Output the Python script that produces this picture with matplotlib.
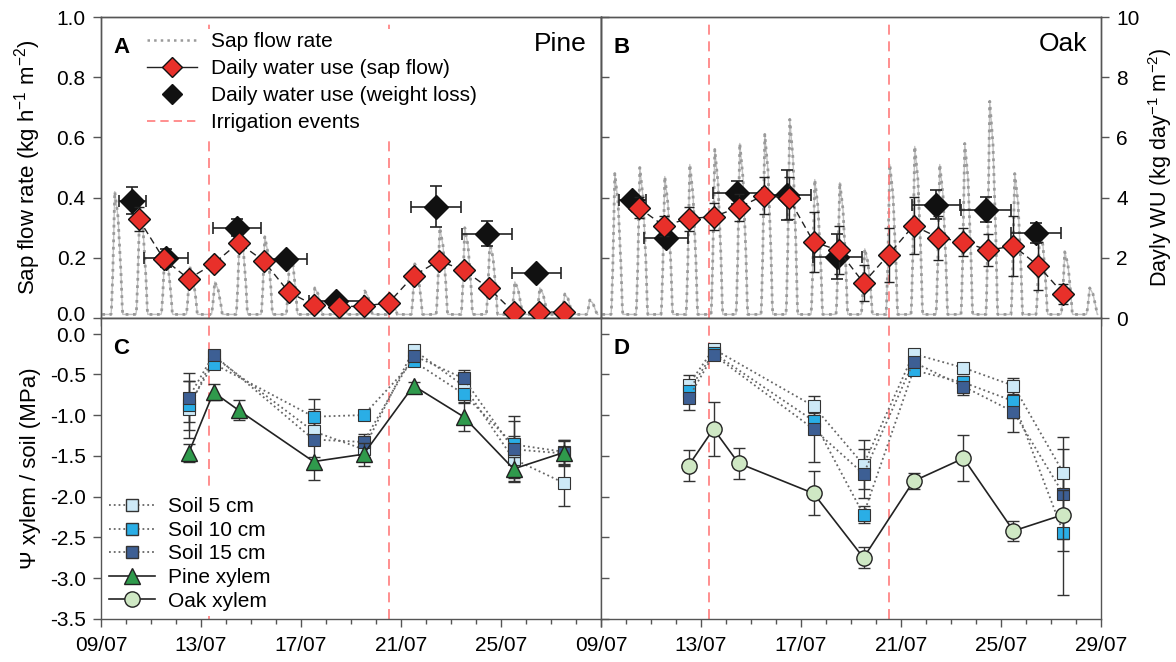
import numpy as np
import matplotlib.pyplot as plt
import matplotlib.transforms as mtransforms
from matplotlib.lines import Line2D
from matplotlib.ticker import MultipleLocator

plt.rcParams['font.family'] = ['Liberation Sans', 'DejaVu Sans']
plt.rcParams['mathtext.default'] = 'regular'

# x values are days since 09/07 00:00
tick_labels = ['09/07', '13/07', '17/07', '21/07', '25/07', '29/07']
irrigation_days = [4.3, 11.5]

# sap flow rate: daily peak (kg h-1 m-2) read per day, plus a rough diurnal shape
sap_days = list(range(20))
pine_sap_peak = [0.42, 0.37, 0.22, 0.17, 0.12, 0.30, 0.27, 0.22, 0.10, 0.08,
                 0.09, 0.07, 0.18, 0.30, 0.30, 0.25, 0.12, 0.10, 0.08, 0.06]
oak_sap_peak = [0.48, 0.50, 0.47, 0.51, 0.56, 0.58, 0.61, 0.66, 0.46, 0.45,
                0.23, 0.51, 0.57, 0.51, 0.58, 0.72, 0.48, 0.30, 0.22, 0.10]
shape_t = [0.40, 0.42, 0.47, 0.55, 0.68, 0.80, 0.85, 0.87]
shape_f = [0.0, 0.08, 0.35, 1.0, 0.8, 0.35, 0.08, 0.0]
sap_base = 0.012

# daily water use from sap flow (kg day-1 m-2)
wu_days = [1.5, 2.5, 3.5, 4.5, 5.5, 6.5, 7.5, 8.5, 9.5, 10.5, 11.5, 12.5, 13.5,
           14.5, 15.5, 16.5, 17.5, 18.5]
pine_wu = [3.3, 1.97, 1.3, 1.8, 2.5, 1.9, 0.87, 0.43, 0.37, 0.4, 0.5, 1.4, 1.9,
           1.6, 1.0, 0.2, 0.2, 0.2]
pine_wu_err = [0.4, 0.2, 0.15, 0.15, 0.2, 0.15, 0.1, 0.05, 0.05, 0.05, 0.05, 0.1,
               0.2, 0.15, 0.15, 0.05, 0.05, 0.05]
oak_wu = [3.67, 3.07, 3.3, 3.37, 3.67, 4.07, 4.0, 2.53, 2.25, 1.17, 2.1, 3.07,
          2.67, 2.53, 2.25, 2.4, 1.73, 0.8]
oak_wu_err = [0.35, 0.33, 0.4, 0.45, 0.45, 0.63, 0.7, 1.0, 0.8, 0.6, 0.9, 0.95,
              0.73, 0.47, 0.53, 1.0, 0.8, 0.33]

# daily water use from weight loss
pine_wl_x = [1.25, 2.6, 5.45, 7.4, 9.4, 13.4, 15.45, 17.4]
pine_wl = [3.9, 2.0, 3.0, 1.97, 0.55, 3.7, 2.8, 1.5]
pine_wl_xerr = [0.55, 0.87, 0.96, 0.85, 1.1, 1.0, 1.0, 0.98]
pine_wl_yerr = [0.45, 0.3, 0.28, 0.0, 0.1, 0.67, 0.42, 0.15]
oak_wl_x = [1.25, 2.6, 5.45, 7.45, 9.45, 13.4, 15.4, 17.4]
oak_wl = [3.93, 2.67, 4.17, 4.1, 2.03, 3.77, 3.6, 2.83]
oak_wl_xerr = [0.55, 0.87, 0.97, 0.95, 0.97, 0.98, 1.0, 1.0]
oak_wl_yerr = [0.1, 0.15, 0.37, 0.83, 0.75, 0.47, 0.42, 0.33]

# water potential (MPa)
psi_days = [3.5, 4.5, 5.5, 8.5, 10.5, 12.5, 14.5, 16.5, 18.5]
pine_xyl = [-1.47, -0.72, -0.94, -1.57, -1.48, -0.64, -1.02, -1.66, -1.46]
pine_xyl_err = [0.11, 0.1, 0.12, 0.05, 0.14, 0.05, 0.17, 0.15, 0.15]
oak_xyl = [-1.62, -1.17, -1.59, -1.96, -2.75, -1.81, -1.53, -2.42, -2.22]
oak_xyl_err = [0.19, 0.33, 0.19, 0.27, 0.13, 0.1, 0.28, 0.12, 0.3]

soil_days = [3.5, 4.5, 8.5, 10.5, 12.5, 14.5, 16.5, 18.5]
pine_soil5 = [-0.93, -0.28, -1.2, -1.42, -0.2, -0.64, -1.54, -1.83]
pine_soil5_err = [0.35, 0.05, 0.15, 0.1, 0.04, 0.08, 0.28, 0.28]
pine_soil10 = [-0.88, -0.37, -1.02, -1.0, -0.34, -0.74, -1.36, -1.45]
pine_soil10_err = [0.3, 0.05, 0.1, 0.05, 0.04, 0.1, 0.35, 0.15]
pine_soil15 = [-0.79, -0.26, -1.3, -1.33, -0.27, -0.55, -1.42, -1.47]
pine_soil15_err = [0.3, 0.05, 0.5, 0.1, 0.05, 0.1, 0.35, 0.15]
oak_soil5 = [-0.63, -0.19, -0.89, -1.61, -0.25, -0.42, -0.64, -1.71]
oak_soil5_err = [0.12, 0.03, 0.05, 0.3, 0.03, 0.05, 0.1, 0.3]
oak_soil10 = [-0.7, -0.24, -1.07, -2.22, -0.45, -0.6, -0.83, -2.45]
oak_soil10_err = [0.12, 0.03, 0.1, 0.1, 0.05, 0.08, 0.2, 0.75]
oak_soil15 = [-0.79, -0.26, -1.17, -1.72, -0.35, -0.65, -0.96, -1.97]
oak_soil15_err = [0.15, 0.03, 0.4, 0.3, 0.05, 0.1, 0.25, 0.7]

red = '#e8302a'
irr_col = '#ff7b7b'
sap_col = '#9a9a9a'
c5, c10, c15 = '#cde9f7', '#2aaee6', '#3d5f94'
pine_green = '#2f9a4c'
oak_green = '#cfe8c4'

fig = plt.figure(figsize=(11.76, 6.62), dpi=100)
L, M, R = 0.0859, 0.5111, 0.9362
T, MID, B = 0.9743, 0.5196, 0.0650
axA = fig.add_axes([L, MID, M - L, T - MID])
axB = fig.add_axes([M, MID, R - M, T - MID])
axC = fig.add_axes([L, B, M - L, MID - B])
axD = fig.add_axes([M, B, R - M, MID - B])


def sap_trace(peaks):
    xs, ys = [0.05], [sap_base]
    for d, p in zip(sap_days, peaks):
        for t, f in zip(shape_t, shape_f):
            xs.append(d + t)
            ys.append(max(sap_base, f * p))
    return xs, ys


def draw_top(ax, peaks, wu, wu_err, wl_x, wl, wl_xerr, wl_yerr):
    xs, ys = sap_trace(peaks)
    ax.plot(xs, ys, '-', color=sap_col, lw=1.0, alpha=0.6)
    ax.plot(xs, ys, ':', color=sap_col, lw=2.0)
    for xd in irrigation_days:
        ax.axvline(xd, color=irr_col, ls=(0, (6, 4)), lw=1.2)
    ax.set_ylim(0, 1.0)
    ax.set_xlim(0, 20)
    ax2 = ax.twinx()
    ax2.set_ylim(0, 10)
    ax2.errorbar(wl_x, wl, xerr=wl_xerr, yerr=wl_yerr, fmt='none', ecolor='#222',
                 elinewidth=1.2, capsize=4, capthick=1.2, zorder=2)
    ax2.plot(wl_x, wl, 'D', color='#111', ms=12, zorder=3)
    ax2.errorbar(wu_days, wu, yerr=wu_err, fmt='none', ecolor='#222',
                 elinewidth=1.0, capsize=3.5, capthick=1.0, zorder=4)
    ax2.plot(wu_days, wu, color='#222', ls=(0, (5, 3)), lw=1.0, marker='D',
             mfc=red, mec='#111', mew=1.0, ms=11, zorder=5)
    return ax2


def draw_bottom(ax, xyl, xyl_err, marker, mcol, soils):
    for xd in irrigation_days:
        ax.axvline(xd, color=irr_col, ls=(0, (6, 4)), lw=1.2, zorder=1)
    for vals, errs, col in soils:
        ax.errorbar(soil_days, vals, yerr=errs, fmt='none', ecolor='#333',
                    elinewidth=1.0, capsize=4, zorder=2)
        ax.plot(soil_days, vals, ':', color='#666', lw=1.3, marker='s', mfc=col,
                mec='#333', mew=0.8, ms=9, zorder=3)
    ax.errorbar(psi_days, xyl, yerr=xyl_err, fmt='none', ecolor='#333',
                elinewidth=1.0, capsize=4, zorder=4)
    ax.plot(psi_days, xyl, '-', color='#222', lw=1.2, marker=marker, mfc=mcol,
            mec='#222', mew=1.0, ms=11, zorder=5)
    ax.set_ylim(-3.5, 0.19)
    ax.set_xlim(0, 20)


a2 = draw_top(axA, pine_sap_peak, pine_wu, pine_wu_err, pine_wl_x, pine_wl,
              pine_wl_xerr, pine_wl_yerr)
b2 = draw_top(axB, oak_sap_peak, oak_wu, oak_wu_err, oak_wl_x, oak_wl,
              oak_wl_xerr, oak_wl_yerr)
draw_bottom(axC, pine_xyl, pine_xyl_err, '^', pine_green,
            [(pine_soil5, pine_soil5_err, c5), (pine_soil10, pine_soil10_err, c10),
             (pine_soil15, pine_soil15_err, c15)])
draw_bottom(axD, oak_xyl, oak_xyl_err, 'o', oak_green,
            [(oak_soil5, oak_soil5_err, c5), (oak_soil10, oak_soil10_err, c10),
             (oak_soil15, oak_soil15_err, c15)])

for ax in [axA, axB, axC, axD, a2, b2]:
    for s in ax.spines.values():
        s.set_color('#555')
        s.set_linewidth(1.0)
for ax in [axA, axB, axC, axD]:
    ax.set_xticks([0, 4, 8, 12, 16, 20])
    ax.xaxis.set_minor_locator(MultipleLocator(1))
    ax.tick_params(axis='x', which='major', direction='out', length=6, width=1,
                   color='#555', labelsize=15, pad=6)
    ax.tick_params(axis='x', which='minor', direction='out', length=3.5, width=1,
                   color='#555')
    ax.tick_params(axis='y', direction='out', length=6, width=1, color='#555',
                   labelsize=15, pad=5)
for ax in [axA, axB]:
    ax.set_yticks([0, 0.2, 0.4, 0.6, 0.8, 1.0])
    ax.tick_params(axis='x', labelbottom=False)
for ax in [axC, axD]:
    ax.set_yticks([0, -0.5, -1.0, -1.5, -2.0, -2.5, -3.0, -3.5])
axA.set_yticklabels(['0.0', '0.2', '0.4', '0.6', '0.8', '1.0'])
axC.set_yticklabels(['0.0', '-0.5', '-1.0', '-1.5', '-2.0', '-2.5', '-3.0', '-3.5'])
axC.set_xticklabels(tick_labels[:5] + [''])
axD.set_xticklabels(tick_labels)
for ax in [axB, axD]:
    ax.tick_params(axis='y', direction='in', labelleft=False)
a2.tick_params(right=False, labelright=False)
b2.set_yticks([0, 2, 4, 6, 8, 10])
b2.tick_params(axis='y', direction='out', length=6, width=1, color='#555',
               labelsize=15, pad=5)

# nudge the two stacked "0.0" labels apart
axA.get_yticklabels()[0].set_transform(
    axA.get_yticklabels()[0].get_transform()
    + mtransforms.ScaledTranslation(0, 3 / 72, fig.dpi_scale_trans))
axC.get_yticklabels()[0].set_transform(
    axC.get_yticklabels()[0].get_transform()
    + mtransforms.ScaledTranslation(0, -1 / 72, fig.dpi_scale_trans))

axA.set_ylabel('Sap flow rate (kg h$^{-1}$ m$^{-2}$)', fontsize=16, labelpad=10)
axC.set_ylabel('\u03a8 xylem / soil (MPa)', fontsize=16, labelpad=6)
b2.set_ylabel('Dayly WU (kg day$^{-1}$ m$^{-2}$)', fontsize=15.5, labelpad=5)

for ax, lab in [(axA, 'A'), (axB, 'B'), (axC, 'C'), (axD, 'D')]:
    ax.text(0.024, 0.935, lab, transform=ax.transAxes, fontsize=16,
            fontweight='bold', va='top', ha='left', zorder=10)
axA.text(0.972, 0.95, 'Pine', transform=axA.transAxes, fontsize=19, va='top',
         ha='right')
axB.text(0.972, 0.95, 'Oak', transform=axB.transAxes, fontsize=19, va='top',
         ha='right')

top_handles = [
    Line2D([], [], color=sap_col, ls=':', lw=1.8),
    Line2D([], [], color='#222', lw=1.0, marker='D', mfc=red, mec='#111', ms=10),
    Line2D([], [], ls='none', marker='D', color='#111', ms=10),
    Line2D([], [], color=irr_col, ls=(0, (5, 3)), lw=1.2),
]
top_labels = ['Sap flow rate', 'Daily water use (sap flow)',
              'Daily water use (weight loss)', 'Irrigation events']
leg = a2.legend(top_handles, top_labels, loc='upper left',
                bbox_to_anchor=(0.085, 0.96), fontsize=15, frameon=True,
                edgecolor='none', facecolor='white', framealpha=1,
                handlelength=2.4, handletextpad=0.7, labelspacing=0.38,
                borderpad=0.15, borderaxespad=0)
leg.set_zorder(20)

bot_handles = [
    Line2D([], [], color='#666', ls=':', lw=1.3, marker='s', mfc=c5, mec='#333', ms=9),
    Line2D([], [], color='#666', ls=':', lw=1.3, marker='s', mfc=c10, mec='#333', ms=9),
    Line2D([], [], color='#666', ls=':', lw=1.3, marker='s', mfc=c15, mec='#333', ms=9),
    Line2D([], [], color='#222', lw=1.2, marker='^', mfc=pine_green, mec='#222', ms=11),
    Line2D([], [], color='#222', lw=1.2, marker='o', mfc=oak_green, mec='#222', ms=11),
]
bot_labels = ['Soil 5 cm', 'Soil 10 cm', 'Soil 15 cm', 'Pine xylem', 'Oak xylem']
leg2 = axC.legend(bot_handles, bot_labels, loc='lower left',
                  bbox_to_anchor=(0.0, 0.0), fontsize=15, frameon=True,
                  edgecolor='none', facecolor='white', framealpha=1,
                  handlelength=2.2, handletextpad=0.6, labelspacing=0.22,
                  borderpad=0.25, borderaxespad=0.15)
leg2.set_zorder(20)

fig.savefig('out.png', dpi=100)
